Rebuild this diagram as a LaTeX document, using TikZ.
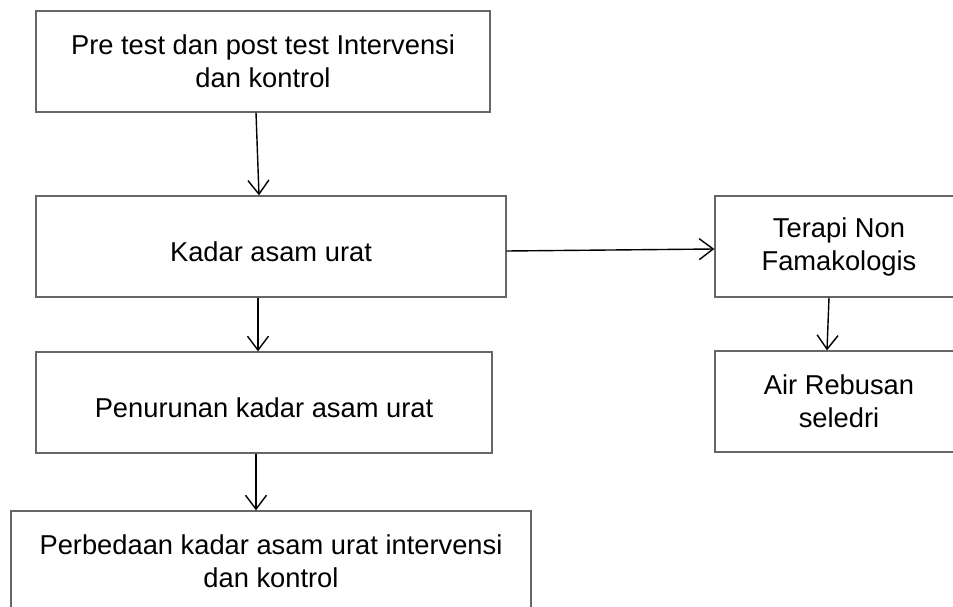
\documentclass[tikz,border=0pt]{standalone}
\usepackage{fontspec}
\setmainfont{Liberation Sans}
\usetikzlibrary{arrows.meta}

\tikzset{
	kotak/.style={rectangle, draw=black!60, line width=1.3pt, inner sep=0pt,
		align=center, minimum height=101pt,
		font=\fontsize{27.3}{33}\selectfont},
	satubaris/.style={text height=29pt, text depth=0pt},
	panah/.style={-{Straight Barb[length=14pt,width=21pt]}, line width=1.4pt}
}

\begin{document}
\begin{tikzpicture}[x=1pt, y=-1pt]
		\clip (0, 0) rectangle (953, 607);

		\draw 
		(263, 61.5) node [kotak, minimum width=454pt] (pre) {Pre test dan post test Intervensi\\dan kontrol}
		(271, 246.5) node [kotak, satubaris, minimum width=470pt] (kadar) {Kadar asam urat}
		(264, 402.5) node [kotak, satubaris, minimum width=456pt] (turun) {Penurunan kadar asam urat}
		(271, 561.5) node [kotak, minimum width=520pt] (beda) {Perbedaan kadar asam urat intervensi\\dan kontrol};

		\draw 
		(839, 246.5) node [kotak, minimum width=248pt] (terapi) {Terapi Non\\Famakologis}
		(839, 401.5) node [kotak, minimum width=248pt] (seledri) {Air Rebusan\\seledri};

		\draw[panah] ([xshift=-7pt]pre.south) -- ([xshift=-12pt]kadar.north);
		\draw[panah] ([xshift=-13pt]kadar.south) -- ([xshift=-6pt]turun.north);
		\draw[panah] ([xshift=-8pt]turun.south) -- ([xshift=-15pt]beda.north);
		\draw[panah] ([yshift=-4.5pt]kadar.east) -- ([yshift=-2.5pt]terapi.west);
		\draw[panah] ([xshift=-10pt]terapi.south) -- ([xshift=-12pt]seledri.north);
	\end{tikzpicture}
\end{document}
